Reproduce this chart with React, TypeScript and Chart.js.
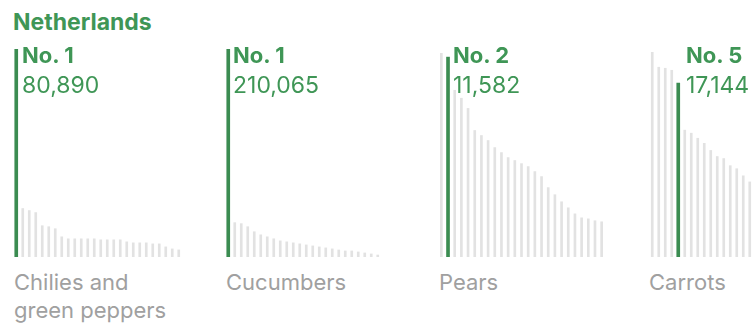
import React, { useEffect, useRef } from "react";
import { Chart, registerables } from "chart.js";

Chart.register(...registerables);

// ---- data ----
const chiliesValues = [80890, 18850, 18060, 17280, 12170, 11780, 11000, 7850, 7070, 7070, 7070, 7070, 7070, 6680, 6680, 6680, 6680, 5890, 5500, 5500, 5500, 5100, 5100, 3930, 3140, 2750];
const cucumbersValues = [210065, 34700, 33700, 30600, 25500, 22400, 20400, 18400, 16300, 15300, 14300, 13300, 12200, 11200, 10200, 9200, 8200, 7100, 6100, 6100, 5100, 4100, 3100, 2000];
const pearsValues = [11820, 11582, 9660, 9200, 8610, 7330, 7040, 6750, 6340, 6050, 5760, 5590, 5410, 5240, 4950, 4660, 4020, 3610, 3200, 2850, 2500, 2270, 2210, 2100, 2040];
const carrotsValues = [20200, 18700, 18600, 18400, 17144, 12500, 12200, 11700, 11200, 10500, 9900, 9700, 9000, 8700, 8000, 7400];

const productNames = ["Chilies and\ngreen peppers", "Cucumbers", "Pears", "Carrots"];
const netherlandsRanks = [1, 1, 2, 5];
const netherlandsValueLabels = ["80,890", "210,065", "11,582", "17,144"];
const countryTitle = "Netherlands";

const seriesList = [chiliesValues, cucumbersValues, pearsValues, carrotsValues];

// ---- layout ----
const GREEN = "#3b8c51";
const TEXT_GREEN = "#3f9656";
const GRAY_BAR = "#e2e2e2";
const FONT = "Inter, 'Open Sans', sans-serif";
const BASE_Y = 257;

const panelLayout = [
  { left: 13, width: 169, top: 49, textX: 22, labelX: 14 },
  { left: 225, width: 156, top: 49, textX: 233, labelX: 226 },
  { left: 438, width: 167, top: 53, textX: 453, labelX: 439 },
  { left: 649, width: 104, top: 52, textX: 686, labelX: 649 },
];

function BarPanel({ values, rank, layout }: { values: number[]; rank: number; layout: any }) {
  const ref = useRef<HTMLCanvasElement | null>(null);
  useEffect(() => {
    if (!ref.current) return;
    const idx = rank - 1;
    const labels = values.map((_, i) => String(i + 1));
    const grayData = values.map((v, i) => (i === idx ? null : v));
    const greenData = values.map((v, i) => (i === idx ? v : null));
    const chart = new Chart(ref.current, {
      type: "bar",
      data: {
        labels,
        datasets: [
          { data: grayData, backgroundColor: GRAY_BAR, barThickness: 2, grouped: false, order: 2 } as any,
          { data: greenData, backgroundColor: GREEN, barThickness: 3, grouped: false, order: 1 } as any,
        ],
      },
      options: {
        animation: false,
        responsive: false,
        maintainAspectRatio: false,
        devicePixelRatio: 1,
        layout: { padding: 0 },
        plugins: { legend: { display: false }, tooltip: { enabled: false } },
        scales: {
          x: {
            display: true,
            grid: { display: false, drawTicks: false },
            ticks: { display: false },
            border: { display: true, color: "#ececec", width: 1 },
          },
          y: { display: false, min: 0, max: Math.max(...values) },
        },
      },
    });
    return () => chart.destroy();
  }, [values, rank]);
  return (
    <canvas
      ref={ref}
      width={layout.width}
      height={BASE_Y - layout.top}
      style={{ position: "absolute", left: layout.left, top: layout.top, width: layout.width, height: BASE_Y - layout.top }}
    />
  );
}

export default function App() {
  return (
    <div
      style={{
        position: "absolute",
        left: 0,
        top: 0,
        width: 753,
        height: 325,
        overflow: "hidden",
        background: "#fff",
        fontFamily: FONT,
      }}
    >
      <div
        style={{ position: "absolute", left: 13, top: 11, fontSize: 23, lineHeight: "23px", fontWeight: 700, color: TEXT_GREEN, whiteSpace: "nowrap" }}
      >
        {countryTitle}
      </div>
      {seriesList.map((values, i) => {
        const lay = panelLayout[i];
        return (
          <React.Fragment key={i}>
            <BarPanel values={values} rank={netherlandsRanks[i]} layout={lay} />
            <div
              style={{ position: "absolute", left: lay.textX, top: 44, fontSize: 22, lineHeight: "22px", fontWeight: 700, color: TEXT_GREEN, whiteSpace: "nowrap" }}
            >
              {"No. " + netherlandsRanks[i]}
            </div>
            <div
              style={{ position: "absolute", left: lay.textX, top: 74, fontSize: 23, lineHeight: "23px", fontWeight: 400, color: TEXT_GREEN, whiteSpace: "nowrap" }}
            >
              {netherlandsValueLabels[i]}
            </div>
            <div
              style={{ position: "absolute", left: lay.labelX, top: 268, fontSize: 22, lineHeight: "28px", fontWeight: 400, color: "#a0a0a0", whiteSpace: "pre" }}
            >
              {productNames[i]}
            </div>
          </React.Fragment>
        );
      })}
    </div>
  );
}
